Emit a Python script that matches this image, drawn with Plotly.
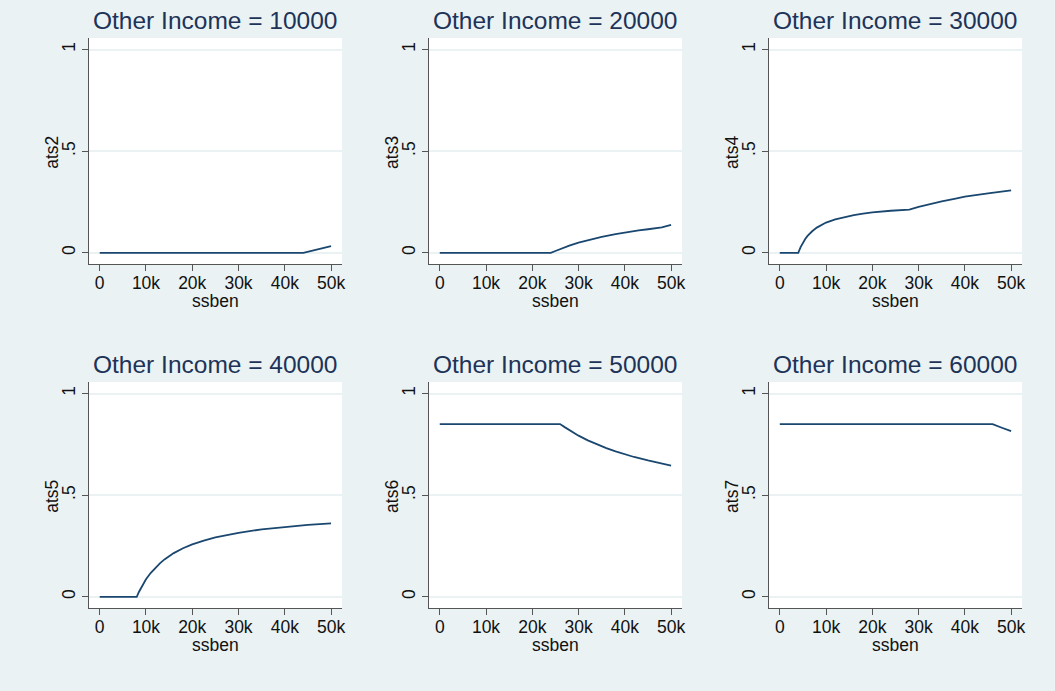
import plotly.graph_objects as go

# ssben grid and average tax share per panel (other income level)
other_income = [10000, 20000, 30000, 40000, 50000, 60000]
y_names = ["ats2", "ats3", "ats4", "ats5", "ats6", "ats7"]

ssben_ats2 = [0, 44000, 46000, 48000, 50000]
ats2 = [0, 0, 0.011, 0.022, 0.033]

ssben_ats3 = [0, 24000, 25000, 26000, 27000, 28000, 30000, 32000, 35000, 38000, 40000, 43000,
              45000, 48000, 50000]
ats3 = [0, 0, 0.009, 0.018, 0.027, 0.035, 0.050, 0.062, 0.078, 0.092, 0.100, 0.110,
        0.116, 0.125, 0.138]

ssben_ats4 = [0, 4000, 4500, 5000, 5500, 6000, 6500, 7000, 8000, 9000, 10000, 12000, 14000,
              16000, 18000, 20000, 24000, 28000, 30000, 32000, 35000, 38000, 40000, 45000, 50000]
ats4 = [0, 0, 0.028, 0.050, 0.068, 0.083, 0.095, 0.106, 0.124, 0.138, 0.149, 0.165, 0.177,
        0.186, 0.193, 0.199, 0.207, 0.213, 0.226, 0.238, 0.253, 0.267, 0.276, 0.293, 0.307]

ssben_ats5 = [0, 8000, 8500, 9000, 9500, 10000, 11000, 12000, 13000, 14000, 16000, 18000, 20000,
              22500, 25000, 27500, 30000, 35000, 40000, 45000, 50000]
ats5 = [0, 0, 0.025, 0.048, 0.068, 0.086, 0.117, 0.143, 0.165, 0.184, 0.215, 0.239, 0.258,
        0.276, 0.292, 0.304, 0.315, 0.332, 0.344, 0.354, 0.361]

ssben_ats6 = [0, 26000, 27000, 28000, 29000, 30000, 32000, 34000, 36000, 38000, 40000, 42000,
              45000, 48000, 50000]
ats6 = [0.85, 0.85, 0.835, 0.820, 0.806, 0.793, 0.770, 0.750, 0.732, 0.716, 0.701, 0.688,
        0.671, 0.655, 0.646]

ssben_ats7 = [0, 46000, 48000, 50000]
ats7 = [0.85, 0.85, 0.832, 0.815]

x_ticks = [0, 10000, 20000, 30000, 40000, 50000]
x_tick_labels = ["0", "10k", "20k", "30k", "40k", "50k"]
y_ticks = [0, 0.5, 1]
y_tick_labels = ["0", ".5", "1"]

series_x = [ssben_ats2, ssben_ats3, ssben_ats4, ssben_ats5, ssben_ats6, ssben_ats7]
series_y = [ats2, ats3, ats4, ats5, ats6, ats7]

W, H = 1055, 691
BG = "#EAF2F3"
LINE = "#1A476F"
TITLE = "#1D3358"
AXIS = "#555555"
TEXT = "#111111"
FONT = "Liberation Sans, Arial, Helvetica, sans-serif"

# plot-area pixel boxes (left, right) per column and (top, bottom) per row
cols = [(89, 343), (430, 684), (771, 1025)]
rows = [(38, 264), (382, 608)]

fig = go.Figure()
annotations = []
layout = {}

for i in range(6):
    r, c = divmod(i, 3)
    xl, xr = cols[c]
    yt, yb = rows[r]
    n = "" if i == 0 else str(i + 1)
    xa, ya = "x" + n, "y" + n

    fig.add_trace(go.Scatter(
        x=series_x[i], y=series_y[i], mode="lines",
        line=dict(color=LINE, width=1.8),
        xaxis=xa, yaxis=ya, showlegend=False, hoverinfo="skip",
    ))

    layout["xaxis" + n] = dict(
        domain=[xl / W, xr / W], anchor=ya,
        range=[-2370, 52370], tickvals=x_ticks, ticktext=x_tick_labels,
        showgrid=False, zeroline=False,
        showline=True, linecolor=AXIS, linewidth=1.2,
        ticks="outside", ticklen=6, tickcolor=AXIS, tickwidth=1.2,
        ticklabelstandoff=-3,
        tickfont=dict(family=FONT, size=17.5, color=TEXT),
        fixedrange=True,
    )
    layout["yaxis" + n] = dict(
        domain=[1 - yb / H, 1 - yt / H], anchor=xa,
        range=[-0.055, 1.057], tickvals=y_ticks, ticktext=y_tick_labels,
        tickangle=-90,
        showgrid=True, gridcolor=BG, gridwidth=1.5, zeroline=False,
        showline=True, linecolor=AXIS, linewidth=1.2,
        ticks="outside", ticklen=6, tickcolor=AXIS, tickwidth=1.2,
        tickfont=dict(family=FONT, size=17.5, color=TEXT),
        fixedrange=True,
    )

    xc = (xl + xr) / 2 / W
    # panel title
    annotations.append(dict(
        text=f"Other Income = {other_income[i]}", x=xc, y=1 - (yt - 18) / H,
        xref="paper", yref="paper", xanchor="center", yanchor="middle",
        showarrow=False, font=dict(family=FONT, size=24.5, color=TITLE),
    ))
    # x-axis title
    annotations.append(dict(
        text="ssben", x=xc, y=1 - (yb + 37) / H,
        xref="paper", yref="paper", xanchor="center", yanchor="middle",
        showarrow=False, font=dict(family=FONT, size=17.5, color=TEXT),
    ))
    # y-axis title
    annotations.append(dict(
        text=y_names[i], x=(xl - 37) / W, y=1 - (yt + 114) / H,
        xref="paper", yref="paper", xanchor="center", yanchor="middle",
        textangle=-90, showarrow=False,
        font=dict(family=FONT, size=17.5, color=TEXT),
    ))

fig.update_layout(
    width=W, height=H,
    margin=dict(l=0, r=0, t=0, b=0),
    paper_bgcolor=BG, plot_bgcolor="white",
    annotations=annotations,
    **layout,
)

fig.write_html("out.html", config={"displayModeBar": False})
